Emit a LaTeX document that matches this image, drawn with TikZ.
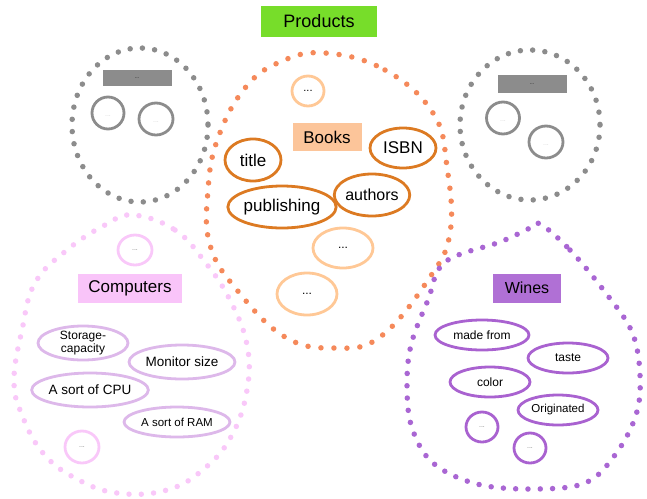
\documentclass[tikz,border=0pt]{standalone}
\usepackage{fontspec}
\setmainfont{Liberation Sans}
\usetikzlibrary{shapes.geometric}
\definecolor{prodgreen}{HTML}{77DD2A}
\definecolor{grayc}{HTML}{8C8C8C}
\definecolor{orgdot}{HTML}{F5895A}
\definecolor{orglight}{HTML}{FFC896}
\definecolor{orgfill}{HTML}{FCC59A}
\definecolor{orgdark}{HTML}{DC7A22}
\definecolor{pinkdot}{HTML}{F9C8F9}
\definecolor{pinkfill}{HTML}{F9C4F9}
\definecolor{lavender}{HTML}{DDB8EA}
\definecolor{purpdot}{HTML}{A966D3}
\definecolor{purpfill}{HTML}{B070D5}
\definecolor{purpline}{HTML}{A962D0}
\newcommand{\fs}[1]{\fontsize{#1}{#1}\selectfont}
\begin{document}
\begin{tikzpicture}[x=1pt,y=-1pt,
  blob/.style={line width=5.5pt,line cap=round,dash pattern=on 0pt off 12.3pt},
  oval/.style={ellipse,draw,line width=2.8pt,fill=white,inner sep=0pt,align=center},
  lbl/.style={rectangle,inner sep=0pt},
]
\useasboundingbox (0,0) rectangle (647,498);
% blobs
\draw[blob,grayc] (140,125) ellipse[x radius=68,y radius=77];
\draw[blob,grayc] (530,125) ellipse[x radius=70,y radius=75];
\draw[blob,orgdot,dash pattern=on 0pt off 13pt] plot[smooth cycle,tension=0.7] coordinates{
 (325,53) (385,70) (433,113) (447,167) (450,233) (428,280) (380,337) (335,348)
 (285,337) (237,290) (210,245) (208,190) (218,138) (245,88) (280,62)};
\draw[blob,pinkdot] plot[smooth cycle,tension=0.7] coordinates{
 (133,215) (175,230) (205,262) (230,300) (247,345) (247,390) (232,435) (205,468)
 (167,490) (117,493) (75,478) (43,453) (22,415) (14,380) (22,330) (35,283) (67,250) (105,225)};
\draw[blob,purpdot] plot[smooth cycle,tension=0.6] coordinates{
 (540,224) (570,250) (605,292) (632,332) (640,375) (636,415) (615,455) (585,483)
 (533,489) (477,484) (433,463) (412,428) (407,387) (411,345) (428,300) (445,262)
 (500,242) (528,229)};
% title
\node[rectangle,fill=prodgreen,minimum width=116pt,minimum height=31pt,inner sep=0pt,
  font=\fs{18}] (prod) at (319,21) {Products};
% gray left
\node[rectangle,fill=grayc,minimum width=69pt,minimum height=16pt,inner sep=0pt,font=\tiny] (gl) at (137,78) {...};
\node[oval,draw=grayc,minimum width=32pt,minimum height=32pt,font=\scriptsize,text=grayc!35] (gl1) at (108,113) {\raisebox{-6pt}{...}};
\node[oval,draw=grayc,minimum width=34pt,minimum height=32pt,font=\scriptsize,text=grayc!35] (gl2) at (156,119) {\raisebox{-6pt}{...}};
% gray right
\node[rectangle,fill=grayc,minimum width=69pt,minimum height=18pt,inner sep=0pt,font=\tiny] (gr) at (532,84) {...};
\node[oval,draw=grayc,minimum width=33pt,minimum height=32pt,font=\scriptsize,text=grayc!35] (gr1) at (503,118) {\raisebox{-6pt}{...}};
\node[oval,draw=grayc,minimum width=34pt,minimum height=32pt,font=\scriptsize,text=grayc!35] (gr2) at (546,142) {\raisebox{-6pt}{...}};
% books
\node[oval,draw=orglight,minimum width=32pt,minimum height=30pt,font=\fs{11}] (b0) at (308,91) {...};
\node[lbl,fill=orgfill,minimum width=69pt,minimum height=28pt,font=\fs{17}] (books) at (327,137) {Books};
\node[oval,draw=orgdark,minimum width=56pt,minimum height=42pt,font=\fs{17}] (title) at (253,160) {title};
\node[oval,draw=orgdark,minimum width=66pt,minimum height=40pt,font=\fs{17}] (isbn) at (403,148) {ISBN};
\node[oval,draw=orgdark,minimum width=96pt,minimum height=42pt,font=\fs{17}] (pub) at (282,207) {publishing};
\node[oval,draw=orgdark,minimum width=64pt,minimum height=42pt,font=\fs{16}] (auth) at (372,195) {authors};
\node[oval,draw=orglight,minimum width=60pt,minimum height=40pt,font=\fs{12}] (b1) at (343,248) {...};
\node[oval,draw=orglight,minimum width=60pt,minimum height=42pt,font=\fs{12}] (b2) at (307,294) {...};
% computers
\node[oval,draw=pinkdot,minimum width=34pt,minimum height=30pt,font=\scriptsize,text=gray] (c0) at (135,250) {...};
\node[lbl,fill=pinkfill,minimum width=104pt,minimum height=29pt,font=\fs{17}] (comp) at (130,288) {Computers};
\node[oval,draw=lavender,minimum width=90pt,minimum height=34pt,font=\fs{12}] (stor) at (83,343) {Storage-\\[1pt]capacity};
\node[oval,draw=lavender,minimum width=106pt,minimum height=34pt,font=\fs{13.5}] (mon) at (182,362) {Monitor size};
\node[oval,draw=lavender,minimum width=90pt,minimum height=34pt,font=\fs{13.5}] (cpu) at (90,390) {A sort of CPU};
\node[oval,draw=lavender,minimum width=106pt,minimum height=30pt,font=\fs{11.5}] (ram) at (177,422) {A sort of RAM};
\node[oval,draw=pinkdot,minimum width=34pt,minimum height=32pt,font=\scriptsize,text=gray] (c1) at (82,447) {...};
% wines
\node[lbl,fill=purpfill,minimum width=68pt,minimum height=29pt,font=\fs{16}] (wines) at (527,288) {Wines};
\node[oval,draw=purpline,minimum width=94pt,minimum height=30pt,font=\fs{12}] (made) at (482,335) {made from};
\node[oval,draw=purpline,minimum width=80pt,minimum height=30pt,font=\fs{12}] (taste) at (568,358) {taste};
\node[oval,draw=purpline,minimum width=80pt,minimum height=30pt,font=\fs{12}] (color) at (490,382) {color};
\node[oval,draw=purpline,minimum width=80pt,minimum height=30pt,font=\fs{11.5}] (orig) at (558,410) {Originated};
\node[oval,draw=purpline,minimum width=32pt,minimum height=30pt,font=\scriptsize,text=gray] (w0) at (482,427) {...};
\node[oval,draw=purpline,minimum width=32pt,minimum height=30pt,font=\scriptsize,text=gray] (w1) at (530,448) {...};
\end{tikzpicture}
\end{document}
